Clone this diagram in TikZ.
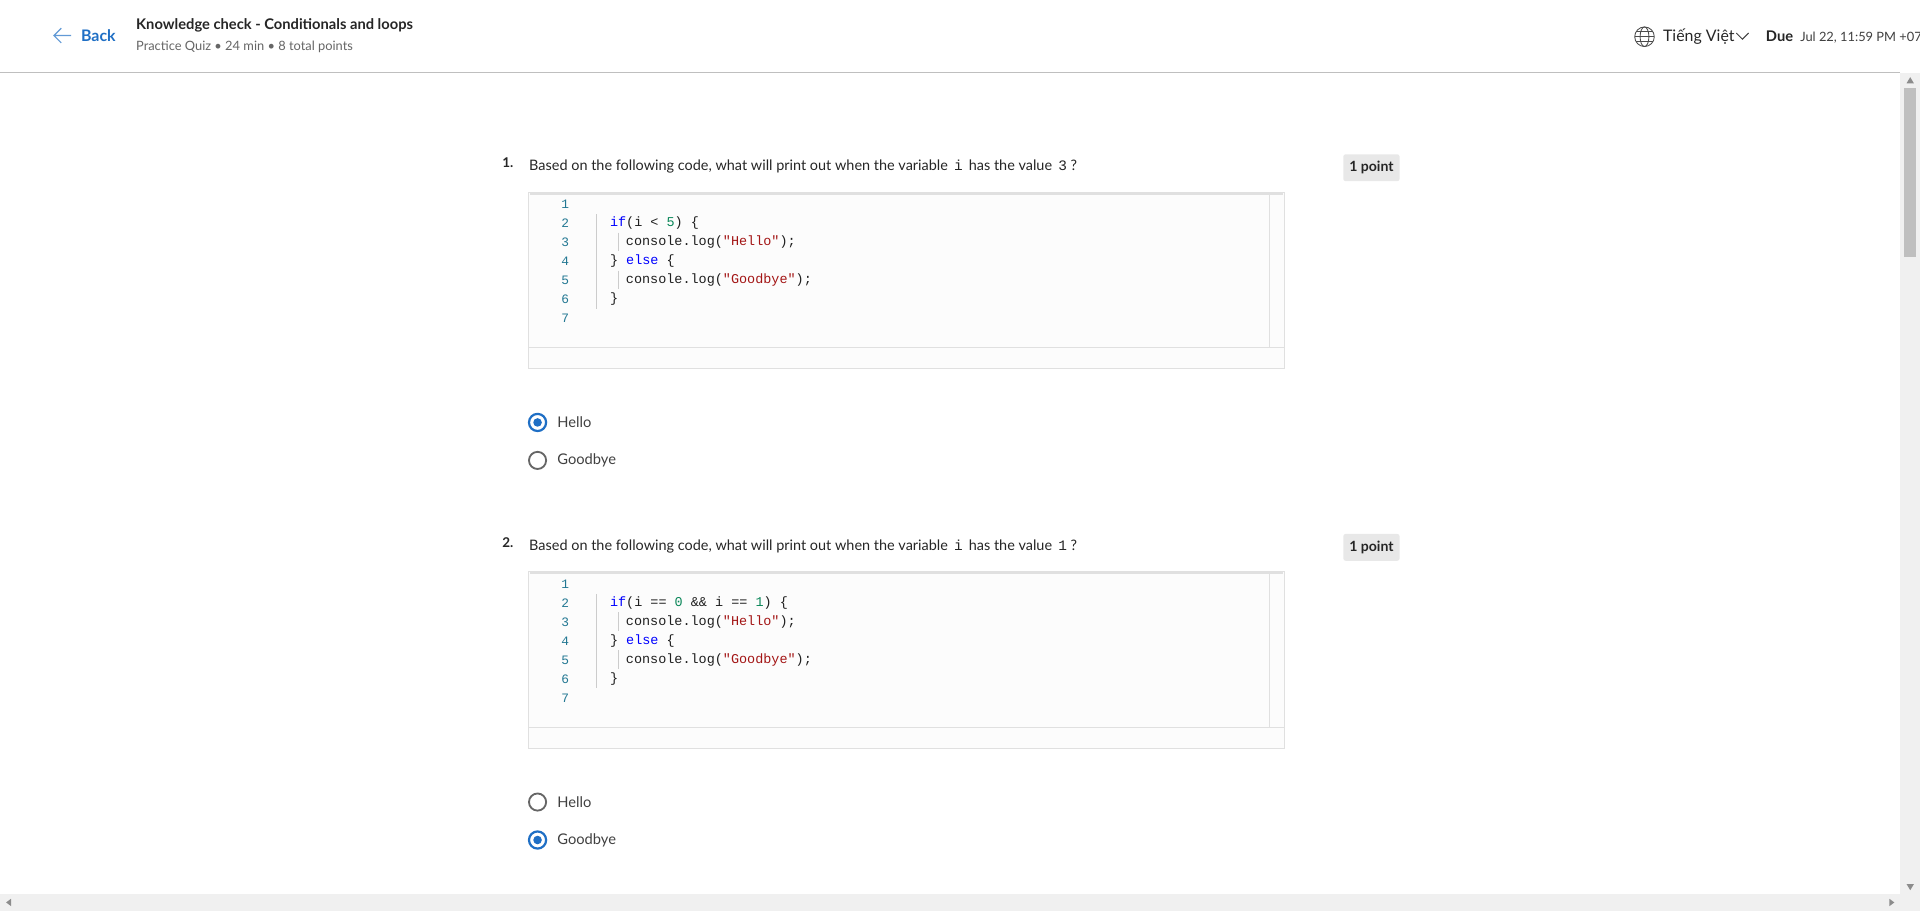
\documentclass[tikz,border=0pt]{standalone}
\usepackage{fontspec}
\setmainfont{Lato}
\newfontfamily\codefont{Liberation Mono}
\begin{document}
\begin{tikzpicture}[x=1pt,y=-1pt,
  txt/.style={anchor=west,inner sep=0pt,text=black!85,font=\fontsize{12}{12}\selectfont},
  ln/.style={anchor=east,inner sep=0pt,text=lnc,font=\codefont\fontsize{10.5}{10}\selectfont},
  cd/.style={anchor=west,inner sep=0pt,text=black!88,font=\codefont\fontsize{11}{10}\selectfont},
  pt/.style={fill=black!9,rounded corners=2pt,minimum width=46pt,minimum height=22pt,inner sep=0pt,font=\bfseries\fontsize{11.5}{12}\selectfont,text=black!85},
  radio/.style={circle,draw=black!60,line width=1.5pt,minimum size=14pt,inner sep=0pt},
  radioon/.style={circle,draw=rb,line width=1.8pt,minimum size=14pt,inner sep=0pt},
]
\definecolor{kw}{HTML}{0000FF}
\definecolor{st}{HTML}{A31515}
\definecolor{nm}{HTML}{098658}
\definecolor{rb}{HTML}{1F6FC5}
\definecolor{lnc}{HTML}{237893}
\useasboundingbox (0,0) rectangle (1568,744);
\fill[white] (0,0) rectangle (1568,744);
% header
\draw[black!25,line width=1pt] (0,59) -- (1552,59);
\draw[rb!70,line width=1pt] (58,29) -- (44,29) (50,23) -- (44,29) -- (50,35);
\node[txt,text=rb,font=\bfseries\fontsize{13}{13}\selectfont] (back) at (66,29.5) {Back};
\node[txt,font=\bfseries\fontsize{12}{12}\selectfont] (title) at (111,21) {Knowledge check - Conditionals and loops};
\node[txt,text=black!60,font=\fontsize{10.5}{11}\selectfont] (sub) at (111,38.5) {Practice Quiz • 24 min • 8 total points};
\begin{scope}[black!70,line width=0.7pt]
\coordinate (globe) at (1343,30);
\draw (globe) circle (8pt);
\draw (globe) ellipse (3.6pt and 8pt);
\draw ([xshift=-8pt]globe) -- ([xshift=8pt]globe);
\draw ([xshift=-7pt,yshift=-4pt]globe) -- ([xshift=7pt,yshift=-4pt]globe);
\draw ([xshift=-7pt,yshift=4pt]globe) -- ([xshift=7pt,yshift=4pt]globe);
\end{scope}
\node[txt,font=\fontsize{13}{13}\selectfont] (lang) at (1358,30) {Tiếng Việt};
\draw[black!75,line width=0.8pt] (1418,27) -- (1423,32) -- (1428,27);
\node[txt,font=\bfseries\fontsize{12}{12}\selectfont] (due) at (1442,30) {Due};
\node[txt,text=black!75,font=\fontsize{10.5}{11}\selectfont] (date) at (1470,30.5) {Jul 22, 11:59 PM +07};
% scrollbars
\fill[black!6] (1552,60) rectangle (1568,744);
\fill[black!25] (1555,72) rectangle (1565,210);
\fill[black!6] (0,730) rectangle (1552,744);
\fill[black!45] (1557,722) -- (1563,722) -- (1560,727) -- cycle;
\fill[black!45] (1557,68) -- (1563,68) -- (1560,63) -- cycle;
\fill[black!45] (9,734) -- (9,740) -- (5,737) -- cycle;
\fill[black!45] (1543,734) -- (1543,740) -- (1547,737) -- cycle;
% questions
\foreach \dy/\cond/\val/\sel in {0/1/3/1,310/2/1/2}{
\begin{scope}[yshift=-\dy pt]
\node[txt,font=\bfseries\fontsize{11}{11}\selectfont] (qn\cond) at (410,133) {\cond.};
\node[txt,font=\fontsize{11.8}{12}\selectfont] (q\cond) at (432,136) {Based on the following code, what will print out when the variable\hspace{5pt}{\codefont i}\hspace{5pt}has the value\hspace{5pt}{\codefont\val}\hspace{3pt}?};
\node[pt] (p\cond) at (1120,137) {1 point};
\fill[black!1] (432,157) rectangle (1049,301);
\draw[black!12,line width=0.8pt] (432,157) rectangle (1049,301);
\draw[black!12,line width=2pt] (433,158) -- (1048,158);
\draw[black!12,line width=0.8pt] (432,284) -- (1049,284) (1037,157) -- (1037,284);
\draw[black!20,line width=0.6pt] (487,175) -- (487,252) (505,190) -- (505,205) (505,221) -- (505,236);
\foreach \n [count=\k] in {1,...,7}{
  \node[ln] (l\cond\k) at (465,{167+15.5*(\k-1)}) {\n};}
\ifnum\cond=1
\node[cd] (c12) at (498,182.5) {\textcolor{kw}{if}(i < \textcolor{nm}{5}) \{};
\else
\node[cd] (c22) at (498,182.5) {\textcolor{kw}{if}(i == \textcolor{nm}{0} \&\& i == \textcolor{nm}{1}) \{};
\fi
\node[cd] (c\cond3) at (511,198) {console.log(\textcolor{st}{"Hello"});};
\node[cd] (c\cond4) at (498,213.5) {\} \textcolor{kw}{else} \{};
\node[cd] (c\cond5) at (511,229) {console.log(\textcolor{st}{"Goodbye"});};
\node[cd] (c\cond6) at (498,244.5) {\}};
\ifnum\sel=1
\node[radioon] (ra\cond) at (439,345) {}; \fill[rb] (ra\cond) circle (3.5pt);
\node[radio] (rb\cond) at (439,376) {};
\else
\node[radio] (ra\cond) at (439,345) {};
\node[radioon] (rb\cond) at (439,376) {}; \fill[rb] (rb\cond) circle (3.5pt);
\fi
\node[txt,text=black!75] (h\cond) at (455,345) {Hello};
\node[txt,text=black!75] (g\cond) at (455,376) {Goodbye};
\end{scope}}
\end{tikzpicture}
\end{document}
